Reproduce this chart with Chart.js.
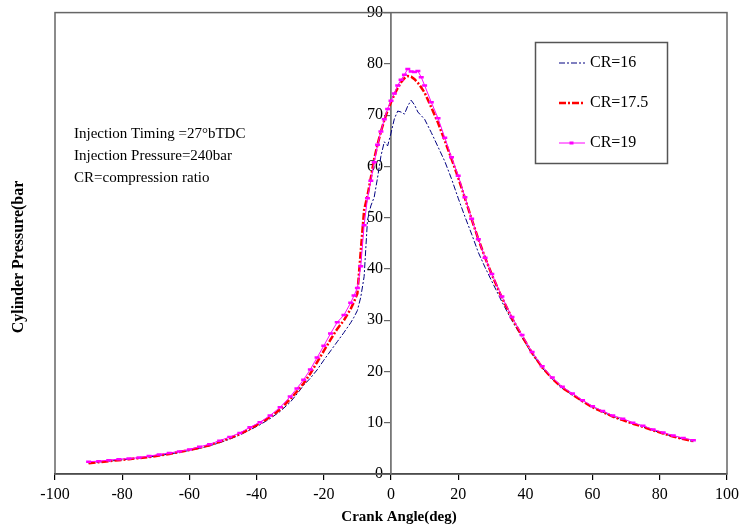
<!DOCTYPE html>
<html>
<head>
<meta charset="utf-8">
<script src="https://cdn.jsdelivr.net/npm/chart.js@4/dist/chart.umd.min.js"></script>
<style>
html,body{margin:0;padding:0;background:#fff;}
#wrap{width:739px;height:532px;}
</style>
</head>
<body>
<div id="wrap"><canvas id="c" width="739" height="532"></canvas></div>
<script>
// Crank angle (deg)
const angles = [-90,-87,-84,-81,-78,-75,-72,-69,-66,-63,-60,-57,-54,-51,-48,-45,-42,-39,-36,-33,-30,
  -28,-26,-24,-22,-20,-18,-16,-14,-12,
  -11,-10,-9,-8,-7,-6,-5,-4,-3,-2,-1,0,1,2,3,4,5,6,7,8,9,10,
  12,14,16,18,20,22,24,26,28,30,
  33,36,39,42,45,48,51,54,57,60,63,66,69,72,75,78,81,84,87,90];

const seriesNames = ["CR=16", "CR=17.5", "CR=19"];

// Cylinder pressure (bar)
const cr16 = [2.1,2.3,2.5,2.7,2.9,3.1,3.3,3.6,3.9,4.2,4.6,5.0,5.5,6.1,6.8,7.6,8.6,9.6,10.8,12.2,14.0,
  15.6,17.3,18.7,20.3,22.2,24.0,25.8,27.6,29.5,
  30.6,31.9,34.5,38.5,49.5,52.3,54.0,57.8,62.0,64.8,64.0,66.5,69.3,70.8,70.6,70.2,71.8,72.9,72.0,70.6,69.9,69.2,
  66.6,63.8,61.0,57.6,53.8,50.2,46.8,43.2,40.3,37.6,
  33.6,29.9,26.6,23.4,20.7,18.5,16.7,15.4,14.1,13.0,12.1,11.2,10.5,9.8,9.2,8.5,7.9,7.3,6.8,6.3];

const cr175 = [2.1,2.3,2.5,2.7,2.9,3.1,3.3,3.6,3.9,4.3,4.7,5.1,5.6,6.3,7.0,7.8,8.8,9.9,11.1,12.6,14.6,
  16.1,17.7,19.6,21.8,24.0,26.2,28.3,30.0,32.2,
  33.6,35.2,43.5,51.5,54.3,57.8,61.5,64.3,66.8,69.0,70.9,72.5,74.0,75.3,76.4,77.2,77.6,77.5,77.0,76.3,75.4,74.4,
  71.5,68.5,65.0,61.5,57.8,53.8,49.7,45.8,42.2,38.9,
  34.4,30.4,26.9,23.6,20.8,18.6,16.8,15.5,14.2,13.0,12.1,11.2,10.5,9.8,9.2,8.5,7.9,7.3,6.8,6.4];

const cr19 = [2.4,2.5,2.7,2.9,3.0,3.2,3.5,3.8,4.1,4.4,4.8,5.3,5.8,6.5,7.2,8.0,9.1,10.1,11.4,13.0,15.1,
  16.7,18.4,20.4,22.7,25.0,27.4,29.6,31.0,33.4,
  34.8,36.3,40.5,48.5,53.8,57.2,60.8,64.2,66.8,69.2,71.2,72.8,74.2,75.8,76.9,77.9,79.0,78.5,78.4,78.6,77.4,75.8,
  72.5,69.4,65.6,61.8,58.2,54.0,49.8,45.8,42.2,39.0,
  34.6,30.6,27.1,23.8,21.0,18.8,17.0,15.7,14.4,13.2,12.3,11.4,10.8,10.0,9.4,8.7,8.1,7.5,7.0,6.6];

const notes = ["Injection Timing =27\u00B0bTDC", "Injection Pressure=240bar", "CR=compression ratio"];
const xTitle = "Crank Angle(deg)";
const yTitle = "Cylinder Pressure(bar";

const toXY = arr => angles.map((a, i) => ({x: a, y: arr[i]}));
const SERIF = "'Liberation Serif', 'Times New Roman', serif";

const styles = [
  {color: '#000080', width: 1, dash: [6,2,2,2], marker: false},
  {color: '#ff0000', width: 2.5, dash: [7,2,2,2], marker: false},
  {color: '#ff00ff', width: 1, dash: [], marker: true}
];

const decor = {
  id: 'decor',
  beforeDatasetsDraw(chart) {
    const {ctx, chartArea: a} = chart;
    ctx.save();
    ctx.strokeStyle = '#666';
    ctx.lineWidth = 1.5;
    ctx.strokeRect(a.left, a.top, a.right - a.left, a.bottom - a.top);
    ctx.restore();
  },
  afterDraw(chart) {
    const {ctx} = chart;
    ctx.save();
    // notes
    ctx.fillStyle = '#000';
    ctx.font = '15px ' + SERIF;
    ctx.textAlign = 'left';
    ctx.textBaseline = 'middle';
    notes.forEach((t, i) => ctx.fillText(t, 74, 134 + i * 22));
    // legend
    ctx.strokeStyle = '#555';
    ctx.lineWidth = 1.5;
    ctx.strokeRect(535.5, 42.5, 132, 121);
    ctx.font = '16px ' + SERIF;
    seriesNames.forEach((name, i) => {
      const y = 63 + i * 40;
      const s = styles[i];
      ctx.strokeStyle = s.color;
      ctx.lineWidth = s.width;
      ctx.setLineDash(s.dash);
      ctx.beginPath();
      ctx.moveTo(559, y);
      ctx.lineTo(585, y);
      ctx.stroke();
      ctx.setLineDash([]);
      if (s.marker) {
        ctx.fillStyle = s.color;
        ctx.fillRect(569.5, y - 1.5, 4, 3);
      }
      ctx.fillStyle = '#000';
      ctx.fillText(name, 590, y);
    });
    // axis titles
    ctx.font = 'bold 15px ' + SERIF;
    ctx.textAlign = 'center';
    ctx.fillText(xTitle, 399, 517);
    ctx.translate(19, 257);
    ctx.rotate(-Math.PI / 2);
    ctx.font = 'bold 16px ' + SERIF;
    ctx.fillText(yTitle, 0, 0);
    ctx.restore();
  }
};

new Chart(document.getElementById('c'), {
  type: 'line',
  data: {
    datasets: [
      {label: seriesNames[2], data: toXY(cr19), borderColor: styles[2].color, backgroundColor: styles[2].color,
       borderWidth: 1, pointStyle: 'line', pointRadius: 2.5, pointBorderWidth: 2.5,
       pointBorderColor: styles[2].color, pointBackgroundColor: styles[2].color, fill: false, tension: 0, order: 0},
      {label: seriesNames[1], data: toXY(cr175), borderColor: styles[1].color, borderWidth: 2.5,
       borderDash: styles[1].dash, pointRadius: 0, fill: false, tension: 0, order: 1},
      {label: seriesNames[0], data: toXY(cr16), borderColor: styles[0].color, borderWidth: 1,
       borderDash: styles[0].dash, pointRadius: 0, fill: false, tension: 0, order: 2}
    ]
  },
  options: {
    responsive: false,
    animation: false,
    layout: {padding: {left: 55, right: 12, top: 12, bottom: 0}},
    plugins: {legend: {display: false}, tooltip: {enabled: false}},
    scales: {
      x: {
        type: 'linear', min: -100, max: 100, position: 'bottom',
        ticks: {stepSize: 20, color: '#000', font: {family: SERIF, size: 16}, padding: 5, maxRotation: 0, autoSkip: false},
        grid: {drawOnChartArea: false, drawTicks: true, tickLength: 6, color: '#000', lineWidth: 1.2},
        border: {display: true, color: '#000', width: 1.5},
        afterFit(s) { s.height = 58; s.paddingLeft = 0; s.paddingRight = 0; }
      },
      y: {
        type: 'linear', min: 0, max: 90, position: {x: 0},
        ticks: {stepSize: 10, color: '#000', font: {family: SERIF, size: 16}, callback: v => v + '  '},
        grid: {drawOnChartArea: false, drawTicks: true, tickLength: 6, color: '#666', lineWidth: 1.2},
        border: {display: true, color: '#777', width: 1.8}
      }
    }
  },
  plugins: [decor]
});
</script>
</body>
</html>
